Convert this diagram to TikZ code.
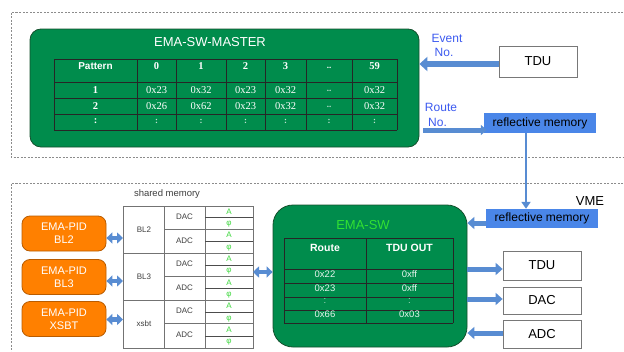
\documentclass[tikz,border=0pt]{standalone}
\usepackage{fontspec}
\setmainfont{Liberation Sans}
\newfontfamily\serifnum{Liberation Serif}
\usetikzlibrary{arrows.meta}
\definecolor{mgreen}{RGB}{0,140,76}
\definecolor{mgreenborder}{RGB}{20,80,45}
\definecolor{porange}{RGB}{255,128,0}
\definecolor{porangeb}{RGB}{185,92,0}
\definecolor{rmblue}{RGB}{74,134,232}
\definecolor{arrblue}{RGB}{88,140,210}
\definecolor{txtblue}{RGB}{60,90,240}
\definecolor{agreen}{RGB}{60,215,60}
\definecolor{titlegreen}{RGB}{50,225,50}
\definecolor{dashgray}{RGB}{140,140,140}
\definecolor{boxgray}{RGB}{120,120,120}
\begin{document}
\begin{tikzpicture}[x=1pt,y=-1pt,
  dashbox/.style={draw=dashgray,line width=0.7pt,dash pattern=on 2pt off 1.5pt},
  masterbox/.style={draw=mgreenborder,fill=mgreen,line width=0.8pt,rounded corners=11pt,inner sep=0pt},
  swbox/.style={draw=mgreenborder,fill=mgreen,line width=0.8pt,rounded corners=20pt,inner sep=0pt},
  pidbox/.style={draw=porangeb,fill=porange,line width=0.8pt,rounded corners=8pt,inner sep=0pt,
    minimum width=84pt,minimum height=35pt,align=center,text=white,font=\fontsize{11}{13}\selectfont},
  whitebox/.style={draw=boxgray,fill=white,line width=0.8pt,inner sep=0pt,minimum width=78pt,font=\fontsize{13}{15}\selectfont},
  rmbox/.style={fill=rmblue,inner sep=0pt,minimum width=112pt,font=\fontsize{12}{14}\selectfont},
  tline/.style={draw=black!85,line width=0.7pt},
  sline/.style={draw=black!55,line width=0.7pt},
  txt/.style={inner sep=0pt,anchor=center},
  mhead/.style={txt,text=white,font=\serifnum\bfseries\fontsize{10.5}{12}\selectfont},
  mval/.style={txt,text=white,font=\serifnum\fontsize{10.5}{12}\selectfont},
  mfaint/.style={txt,text=white!75!mgreen,font=\serifnum\bfseries\fontsize{9}{10}\selectfont},
  cell/.style={txt,text=black!75,font=\fontsize{8}{9}\selectfont},
  agr/.style={txt,text=agreen,font=\fontsize{8}{9}\selectfont},
  bigarrow/.style={draw=arrblue,line width=5pt,-{Triangle[length=7pt 0 0,width=12pt 0 0]}},
  dblarrow/.style={draw=arrblue,line width=4.5pt,{Triangle[length=6pt 0 0,width=11pt 0 0]}-{Triangle[length=6pt 0 0,width=11pt 0 0]}},
  thinarrow/.style={draw=arrblue,line width=2pt,-{Triangle[length=7pt 0 0,width=9pt 0 0]}},
  lbl/.style={txt,text=txtblue,font=\fontsize{12}{14}\selectfont}
]
\useasboundingbox (0,0) rectangle (624,351);
\fill[white] (0,0) rectangle (624,351);

% dashed frames
\draw[dashbox] (630,12) -- (11,12) -- (11,157) -- (630,157);
\draw[dashbox] (630,183) -- (11,183) -- (11,360);

% ---------------- top part ----------------
\node[masterbox,minimum width=389pt,minimum height=118pt] (master) at (224.5,88) {};
\node[txt,text=white,font=\fontsize{13}{15}\selectfont] (mtitle) at (210,42) {EMA-SW-MASTER};
\foreach \x in {54,137,176,226,265,306,352,397} \draw[tline] (\x,59) -- (\x,130);
\foreach \y in {59,82,98,114,130} \draw[tline] (54,\y) -- (397,\y);
% header
\node[txt,text=white,font=\bfseries\fontsize{10}{12}\selectfont] (mh0) at (95.5,66) {Pattern};
\node[mhead] (mh1) at (156.5,66) {0};
\node[mhead] (mh2) at (201,66) {1};
\node[mhead] (mh3) at (245.5,66) {2};
\node[mhead] (mh4) at (285.5,66) {3};
\node[mhead,font=\serifnum\bfseries\fontsize{9}{10}\selectfont] (mh5) at (329,67.5) {..};
\node[mhead] (mh6) at (374.5,66) {59};
% row 1
\node[mhead] (ma0) at (95.5,90) {1};
\node[mval] (ma1) at (156.5,90) {0x23};
\node[mval] (ma2) at (201,90) {0x32};
\node[mval] (ma3) at (245.5,90) {0x23};
\node[mval] (ma4) at (285.5,90) {0x32};
\node[mfaint] (ma5) at (329,91) {..};
\node[mval] (ma6) at (374.5,90) {0x32};
% row 2
\node[mhead] (mb0) at (95.5,106) {2};
\node[mval] (mb1) at (156.5,106) {0x26};
\node[mval] (mb2) at (201,106) {0x62};
\node[mval] (mb3) at (245.5,106) {0x23};
\node[mval] (mb4) at (285.5,106) {0x32};
\node[mfaint] (mb5) at (329,107) {..};
\node[mval] (mb6) at (374.5,106) {0x32};
% row 3
\node[mhead] (mc0) at (95.5,121) {:};
\node[mfaint] (mc1) at (156.5,121) {:};
\node[mfaint] (mc2) at (201,121) {:};
\node[mfaint] (mc3) at (245.5,121) {:};
\node[mfaint] (mc4) at (285.5,121) {:};
\node[mfaint] (mc5) at (329,121) {:};
\node[mfaint] (mc6) at (374.5,121) {:};

\node[whitebox,minimum height=31pt] (tdu1) at (538,61.5) {TDU};
\node[rmbox,minimum height=20pt] (rm1) at (540,123) {reflective memory};
\node[lbl] (ev1) at (447,38) {Event};
\node[lbl] (ev2) at (444,52) {No.};
\node[lbl] (ro1) at (441,107) {Route};
\node[lbl] (ro2) at (437.5,122) {No.};

\coordinate (yev) at (0,64);
\coordinate (yro) at (0,130);
\coordinate (xro) at (423,0);
\draw[draw=arrblue,line width=6pt,-{Triangle[length=8pt 0 0,width=14pt 0 0]}] (tdu1.west |- yev) -- (master.east |- yev);
\draw[draw=arrblue,line width=5pt,-{Triangle[length=6pt 0 0,width=10pt 0 0]}] (xro |- yro) -- ([xshift=3pt]rm1.west |- yro);

% vertical link
\node[rmbox,minimum height=19pt] (rm2) at (542,218.5) {reflective memory};
\node[txt,font=\fontsize{13}{15}\selectfont] (vme) at (590,201) {VME};
\coordinate (vx) at (526,0);
\draw[thinarrow] (vx |- rm1.south) -- (vx |- rm2.north);

% ---------------- bottom part ----------------
\node[swbox,minimum width=194pt,minimum height=142pt] (sw) at (370,276) {};
\node[txt,text=titlegreen,font=\fontsize{13}{15}\selectfont] (swtitle) at (363,225) {EMA-SW};
\foreach \x in {284,366,453} \draw[tline] (\x,238) -- (\x,323);
\foreach \y in {238,269,283,297,310,323} \draw[tline] (284,\y) -- (453,\y);
\node[txt,text=white,font=\bfseries\fontsize{10.5}{12}\selectfont] (sh1) at (325,248) {Route};
\node[txt,text=white,font=\bfseries\fontsize{10.5}{12}\selectfont] (sh2) at (409.5,248) {TDU OUT};
\tikzset{sval/.style={txt,text=white!90!mgreen,font=\fontsize{9.5}{11}\selectfont}}
\node[sval] (sa1) at (325,274.5) {0x22};
\node[sval] (sa2) at (409.5,274.5) {0xff};
\node[sval] (sb1) at (325,288) {0x23};
\node[sval] (sb2) at (409.5,288) {0xff};
\node[sval,text=white!70!mgreen] (sc1) at (325,301) {:};
\node[sval,text=white!70!mgreen] (sc2) at (409.5,301) {:};
\node[sval] (sd1) at (325,314.5) {0x66};
\node[sval] (sd2) at (409.5,314.5) {0x03};

% right boxes
\node[whitebox,minimum height=29pt] (tdu2) at (542,265.5) {TDU};
\node[whitebox,minimum height=27pt] (dac) at (542,300.5) {DAC};
\node[whitebox,minimum height=28pt] (adc) at (542,334) {ADC};
\coordinate (yt) at (0,269);
\coordinate (yd) at (0,299);
\coordinate (ya) at (0,333);
\coordinate (yr) at (0,223);
\draw[bigarrow] (sw.east |- yt) -- (tdu2.west |- yt);
\draw[bigarrow] (sw.east |- yd) -- (dac.west |- yd);
\draw[bigarrow] (adc.west |- ya) -- (sw.east |- ya);
\draw[bigarrow] (rm2.west |- yr) -- (sw.east |- yr);

% shared memory table
\node[txt,text=black!75,font=\fontsize{9.5}{11}\selectfont] (shm) at (167,194) {shared memory};
\coordinate (smNW) at (123,206);
\coordinate (smSE) at (253,348);
\draw[sline] (smNW) rectangle (smSE);
\draw[sline] (164,206) -- (164,348);
\draw[sline] (205,206) -- (205,348);
\draw[sline] (123,253) -- (253,253);
\draw[sline] (123,300) -- (253,300);
\foreach \y in {229.7,276.7,323.7} \draw[sline] (164,\y) -- (253,\y);
\foreach \k in {1,3,5,7,9,11} \draw[sline,draw=black!70] (205,206+11.833*\k) -- (253,206+11.833*\k);
\node[cell] (g1) at (144,229.5) {BL2};
\node[cell] (g2) at (144,276.5) {BL3};
\node[cell] (g3) at (144,323.5) {xsbt};
\node[cell] (d1) at (184.5,217) {DAC};
\node[cell] (a1) at (184.5,241) {ADC};
\node[cell] (d2) at (184.5,264) {DAC};
\node[cell] (a2) at (184.5,288) {ADC};
\node[cell] (d3) at (184.5,311) {DAC};
\node[cell] (a3) at (184.5,335) {ADC};
\foreach \k in {0,2,4,6,8,10} {
  \node[agr] (amp\k) at (229,206+11.833*\k+5.3) {A};
  \node[agr] (phi\k) at (229,206+11.833*\k+11.833+6.5) {φ};
}

% orange PID boxes
\node[pidbox] (pid1) at (64,233.5) {EMA-PID\\BL2};
\node[pidbox] (pid2) at (64,277) {EMA-PID\\BL3};
\node[pidbox] (pid3) at (64,319) {EMA-PID\\XSBT};
\coordinate (y1) at (0,238);
\coordinate (y2) at (0,281);
\coordinate (y3) at (0,319.5);
\coordinate (y4) at (0,272);
\draw[dblarrow] (pid1.east |- y1) -- (smNW |- y1);
\draw[dblarrow] (pid2.east |- y2) -- (smNW |- y2);
\draw[dblarrow] (pid3.east |- y3) -- (smNW |- y3);
\draw[dblarrow] (smSE |- y4) -- (sw.west |- y4);
\end{tikzpicture}
\end{document}
